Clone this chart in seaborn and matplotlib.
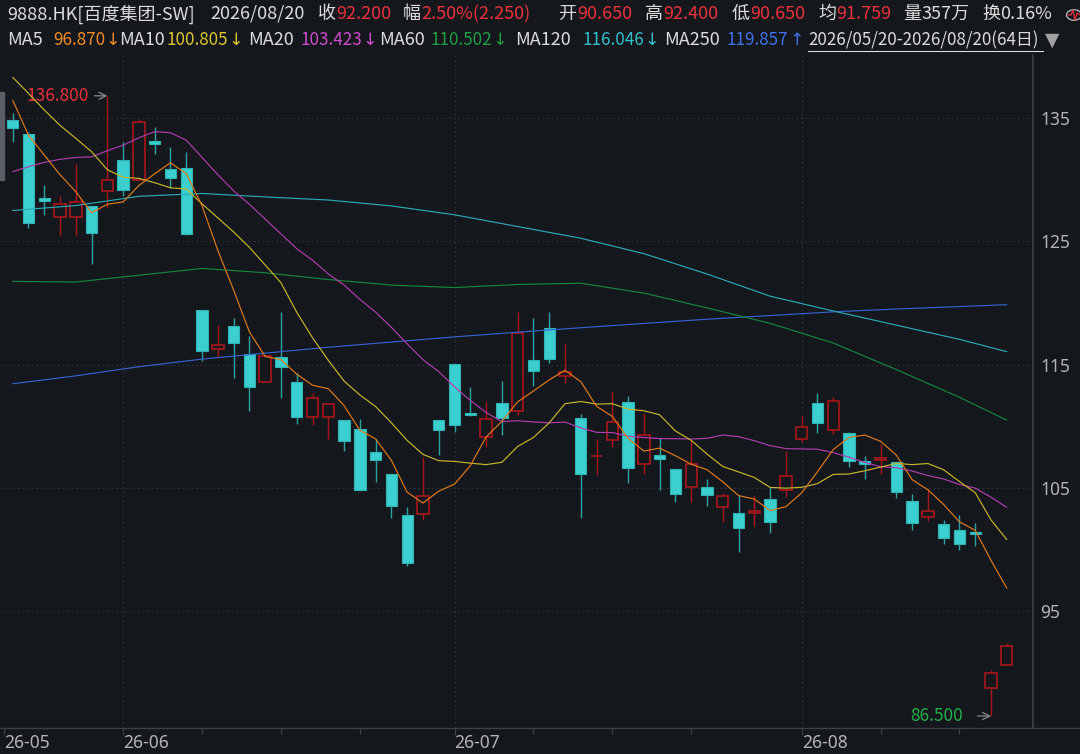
import numpy as np
import pandas as pd
import matplotlib
matplotlib.use('Agg')
import matplotlib.pyplot as plt
import seaborn as sns
from matplotlib.lines import Line2D
from matplotlib.patches import Rectangle, Circle

# %% data (64 trading days, 2026/05/20 - 2026/08/20)
opens = [134.84, 133.7, 128.5, 127.0, 127.0, 127.9, 129.06, 131.57, 129.97, 133.13,
         130.86, 130.97, 119.4, 116.3, 118.13, 115.86, 113.56, 115.64, 113.6, 110.73,
         110.77, 110.48, 109.75, 107.9, 106.1, 102.8, 102.86, 110.48, 115.05, 111.05,
         109.1, 111.86, 111.2, 115.35, 117.94, 114.08, 110.67, 107.55, 108.88, 111.97,
         106.91, 107.7, 106.5, 105.1, 105.07, 103.43, 102.94, 103.0, 104.13, 104.83,
         109.0, 111.86, 109.67, 109.48, 107.19, 107.3, 107.07, 103.94, 102.64, 102.1,
         101.59, 101.37, 88.75, 90.65]
highs = [135.38, 133.9, 129.6, 128.67, 131.27, 127.9, 136.8, 133.08, 134.9, 134.3,
         132.67, 132.27, 119.4, 118.2, 118.75, 117.3, 115.67, 119.24, 114.35, 112.67,
         111.78, 110.48, 110.56, 109.0, 106.1, 103.43, 107.5, 110.48, 115.05, 113.2,
         112.0, 113.67, 119.24, 118.75, 119.24, 116.67, 110.97, 109.0, 112.9, 112.45,
         111.1, 109.07, 106.5, 108.9, 105.7, 104.56, 104.43, 104.35, 105.05, 108.0,
         110.86, 112.67, 112.35, 109.56, 107.6, 108.6, 107.07, 104.48, 104.94, 102.4,
         102.8, 102.13, 90.2, 92.4]
lows = [133.08, 126.05, 127.1, 125.4, 125.4, 123.2, 127.7, 128.7, 129.97, 132.1,
        129.3, 125.5, 115.3, 115.6, 113.9, 111.2, 113.56, 112.3, 110.2, 110.1,
        109.0, 108.0, 104.8, 105.5, 102.6, 98.67, 102.4, 107.7, 109.5, 110.85,
        108.35, 109.3, 110.9, 113.3, 115.1, 113.5, 102.6, 106.05, 108.35, 105.4,
        106.1, 104.8, 103.83, 103.83, 103.5, 102.26, 99.78, 101.93, 101.33, 104.24,
        108.75, 109.48, 109.37, 106.72, 105.7, 106.1, 104.16, 101.6, 102.34, 100.43,
        100.0, 100.3, 86.5, 90.65]
closes = [134.2, 126.5, 128.25, 128.0, 128.16, 125.65, 130.0, 129.14, 134.7, 132.9,
          130.1, 125.6, 116.1, 116.6, 116.78, 113.16, 115.67, 114.78, 110.77, 112.27,
          111.78, 108.78, 104.8, 107.25, 103.53, 98.9, 104.37, 109.67, 110.1, 110.95,
          110.56, 110.7, 117.6, 114.48, 115.48, 114.43, 106.13, 107.6, 110.34, 106.6,
          109.27, 107.32, 104.5, 106.9, 104.4, 104.37, 101.72, 103.1, 102.23, 105.97,
          109.97, 110.29, 112.07, 107.2, 106.94, 107.4, 104.7, 102.13, 103.1, 100.9,
          100.43, 101.24, 89.95, 92.2]

ma5 = [136.45, 133.6, 132.0, 130.4, 129.02, 127.31, 128.01, 128.19, 129.53, 130.48,
       131.37, 130.49, 127.88, 124.26, 121.04, 117.65, 115.66, 115.40, 114.23, 113.33,
       113.05, 111.68, 109.68, 108.98, 107.23, 104.65, 103.77, 104.74, 105.31, 106.80,
       109.13, 110.40, 111.98, 112.86, 113.76, 114.54, 113.62, 111.62, 110.80, 109.02,
       107.99, 108.23, 107.61, 106.92, 106.48, 105.50, 104.38, 104.10, 103.16, 103.48,
       104.60, 106.31, 108.11, 109.10, 109.29, 108.78, 107.66, 105.67, 104.85, 103.65,
       102.25, 101.56, 99.12, 96.87]
ma10 = [138.3, 137.0, 135.65, 134.4, 133.35, 132.27, 130.8, 130.2, 130.1, 129.75,
        129.34, 129.25, 128.04, 126.90, 125.76, 124.51, 123.08, 121.64, 119.25, 117.18,
        115.35, 113.67, 112.54, 111.60, 110.28, 108.85, 107.72, 107.21, 107.15, 107.01,
        106.89, 107.08, 108.36, 109.09, 110.28, 111.83, 112.01, 111.80, 111.83, 111.39,
        111.26, 110.93, 109.62, 108.86, 107.75, 106.74, 106.30, 105.85, 105.04, 104.98,
        105.05, 105.35, 106.10, 106.13, 106.39, 106.69, 106.99, 106.89, 106.98, 106.47,
        105.52, 104.61, 102.40, 100.81]
ma20 = [130.65, 131.05, 131.4, 131.65, 131.8, 131.85, 132.35, 132.8, 133.4, 133.9,
        133.8, 133.2, 131.8, 130.4, 129.1, 128.0, 126.8, 125.6, 124.4, 123.47,
        122.35, 121.46, 120.29, 119.25, 118.02, 116.68, 115.40, 114.43, 113.20, 112.10,
        111.12, 110.38, 110.45, 110.35, 110.28, 110.34, 109.87, 109.51, 109.49, 109.20,
        109.08, 109.00, 108.99, 108.97, 109.02, 109.29, 109.16, 108.83, 108.43, 108.19,
        108.16, 108.14, 107.86, 107.49, 107.07, 106.72, 106.64, 106.37, 106.01, 105.72,
        105.28, 104.98, 104.25, 103.42]

# long averages, read every fourth day
ma_long_idx = [0, 4, 8, 12, 16, 20, 24, 28, 32, 36, 40, 44, 48, 52, 56, 60, 63]
ma60 = [121.75, 121.7, 122.25, 122.8, 122.45, 121.9, 121.45, 121.25, 121.5, 121.6,
        120.8, 119.6, 118.35, 116.75, 114.6, 112.35, 110.5]
ma120 = [127.5, 127.9, 128.65, 128.88, 128.6, 128.35, 127.87, 127.15, 126.2, 125.25,
         124.0, 122.35, 120.55, 119.35, 118.2, 117.05, 116.05]
ma250 = [113.45, 114.09, 114.83, 115.45, 115.93, 116.41, 116.83, 117.25, 117.63, 117.99,
         118.34, 118.68, 118.98, 119.28, 119.51, 119.71, 119.86]

month_pos = [-0.55, 7, 28, 50]
month_labels = ['26-05', '26-06', '26-07', '26-08']
price_ticks = [95, 105, 115, 125, 135]

# %% style
bg = '#14171c'
red = '#e8323c'
red_k = '#a8161a'
cyan = '#3ccfcf'
cyan_w = '#2aa3a6'
white = '#dcdcdc'
ma_colors = {'ma5': '#e07a1c', 'ma10': '#c9b52c', 'ma20': '#b03cb0',
             'ma60': '#16873a', 'ma120': '#2aa8b6', 'ma250': '#3463d0'}

sns.set_theme(style='dark', rc={'axes.facecolor': bg, 'figure.facecolor': bg,
                                'savefig.facecolor': bg, 'axes.edgecolor': '#3a3e45',
                                'xtick.color': '#b4b4b4', 'ytick.color': '#b4b4b4'})
plt.rcParams['font.family'] = ['Noto Sans CJK SC', 'DejaVu Sans']

W, H = 1080, 754
fig = plt.figure(figsize=(W / 100, H / 100), dpi=100)
ax = fig.add_axes([0, (H - 728) / H, 1033 / W, (728 - 55) / H])

df = pd.DataFrame({'idx': np.arange(len(closes)), 'open': opens, 'high': highs,
                   'low': lows, 'close': closes, 'ma5': ma5, 'ma10': ma10, 'ma20': ma20})
df_long = pd.DataFrame({'idx': ma_long_idx, 'ma60': ma60, 'ma120': ma120, 'ma250': ma250})
up = df['close'] >= df['open']

# %% candles
ax.vlines(df['idx'], df['low'], df['high'], colors=np.where(up, red_k, cyan_w),
          lw=1.0, zorder=2)
ax.bar(df.loc[up, 'idx'], (df.loc[up, 'close'] - df.loc[up, 'open']).clip(lower=0.02),
       bottom=df.loc[up, 'open'], width=0.72, facecolor=bg, edgecolor=red_k, lw=1.2, zorder=3)
dn_h = (df.loc[~up, 'open'] - df.loc[~up, 'close']).clip(lower=0.15)
ax.bar(df.loc[~up, 'idx'], dn_h, bottom=df.loc[~up, 'close'], width=0.72,
       facecolor=cyan, edgecolor='#2fb3b5', lw=0.8, zorder=3)

# %% moving averages
for col in ['ma250', 'ma120', 'ma60']:
    sns.lineplot(data=df_long, x='idx', y=col, color=ma_colors[col], lw=0.85, ax=ax, zorder=4)
for col in ['ma20', 'ma10', 'ma5']:
    sns.lineplot(data=df, x='idx', y=col, color=ma_colors[col], lw=0.85, ax=ax, zorder=4)

# %% axes
ax.set_xlim(-0.805, 64.66)
ax.set_ylim(85.53, 140.11)
ax.set_xlabel('')
ax.set_ylabel('')
for s in ['left', 'top', 'bottom']:
    ax.spines[s].set_visible(False)
ax.spines['right'].set_color('#3c4047')
ax.yaxis.tick_right()
ax.set_yticks(price_ticks)
ax.set_yticklabels([str(t) for t in price_ticks], fontsize=12.5, family='Noto Sans')
ax.tick_params(axis='y', length=0, pad=5)
ax.set_xticks(month_pos)
ax.set_xticklabels(month_labels, fontsize=12.5, family='Noto Sans')
for lab in ax.get_xticklabels():
    lab.set_horizontalalignment('left')
ax.tick_params(axis='x', length=5, width=0.8, color='#3c4047', pad=-1, bottom=True)
ax.set_xticks([12, 17, 22, 33, 38, 43, 55, 60], minor=True)
ax.tick_params(axis='x', which='minor', length=4, width=0.8, color='#3c4047', bottom=True)

for t in price_ticks:
    ax.axhline(t, color='#30343b', lw=0.8, ls=(0, (1.5, 2.5)), zorder=0)
for m in month_pos[1:]:
    ax.axvline(m, color='#30343b', lw=0.8, ls=(0, (1.5, 2.5)), zorder=0)
fig.add_artist(Line2D([0, 1], [(H - 728) / H] * 2, color='#3c4047', lw=1.0))

ax.annotate('136.800', xy=(6, 136.8), xytext=(-19, 0), textcoords='offset pixels',
            ha='right', va='center', color=red, fontsize=12.5,
            arrowprops=dict(arrowstyle='->', color='#8a8a8a', lw=0.9, shrinkA=2, shrinkB=0))
ax.annotate('86.500', xy=(62, 86.5), xytext=(-28, 0), textcoords='offset pixels',
            ha='right', va='center', color='#22b04a', fontsize=12.5,
            arrowprops=dict(arrowstyle='->', color='#8a8a8a', lw=0.9, shrinkA=8, shrinkB=0))

# %% header
def seg(x, y, s, color=white, size=13, family=None):
    kw = {'family': family} if family else {}
    return fig.text(x / W, 1 - y / H, s, color=color, fontsize=size, ha='left', va='center', **kw)

row1 = [(7, '9888.HK[百度集团-SW]', white), (210, '2026/08/20', white),
        (318, '收', white), (336, '92.200', red), (403, '幅', white), (421, '2.50%(2.250)', red),
        (558, '开', white), (577, '90.650', red), (645, '高', white), (663, '92.400', red),
        (732, '低', white), (750, '90.650', red), (818, '均', white), (836, '91.759', red),
        (903, '量', white), (921, '357万', white), (982, '换', white), (1000, '0.16%', white)]
for x, s, c in row1:
    seg(x, 14, s, c)

row2_labels = [(7, 'MA5'), (119, 'MA10'), (248, 'MA20'), (379, 'MA60'), (515, 'MA120'), (664, 'MA250')]
row2_values = [(53, '96.870', '#f08a26', '↓'), (166, '100.805', '#dcc630', '↓'),
               (300, '103.423', '#cc4ccc', '↓'), (430, '110.502', '#1f9e45', '↓'),
               (582, '116.046', '#33c0cc', '↓'), (727, '119.857', '#3f72e6', '↑')]
for x, s in row2_labels:
    seg(x, 40, s, white)
renderer = fig.canvas.get_renderer()
for x, s, c, arr in row2_values:
    t = seg(x, 40, s, c, size=12.3)
    x_end = t.get_window_extent(renderer).x1
    seg(x_end + 0.5, 40, arr, c, size=12.5, family='DejaVu Sans')
seg(808, 40, '2026/05/20-2026/08/20(64日)', white, size=12.2)
seg(1045, 40, '▼', '#a0a0a0', size=13.5, family='DejaVu Sans')
fig.add_artist(Line2D([808 / W, 1043 / W], [1 - 51 / H] * 2, color=white, lw=0.8))
fig.add_artist(Rectangle((0, 1 - 180 / H), 4 / W, 88 / H, color='#5a5e66'))
fig.add_artist(Circle((1074 / W, 1 - 15 / H), 7.5 / W, transform=fig.transFigure,
                      facecolor='none', edgecolor='#b0b0b0', lw=1.0))
fig.add_artist(Line2D([x / W for x in [1068, 1071, 1073, 1075, 1077, 1080]],
                      [1 - y / H for y in [15, 15, 10, 20, 13, 15]], color=red, lw=0.9))

fig.savefig('out.png', dpi=100, facecolor=bg)
